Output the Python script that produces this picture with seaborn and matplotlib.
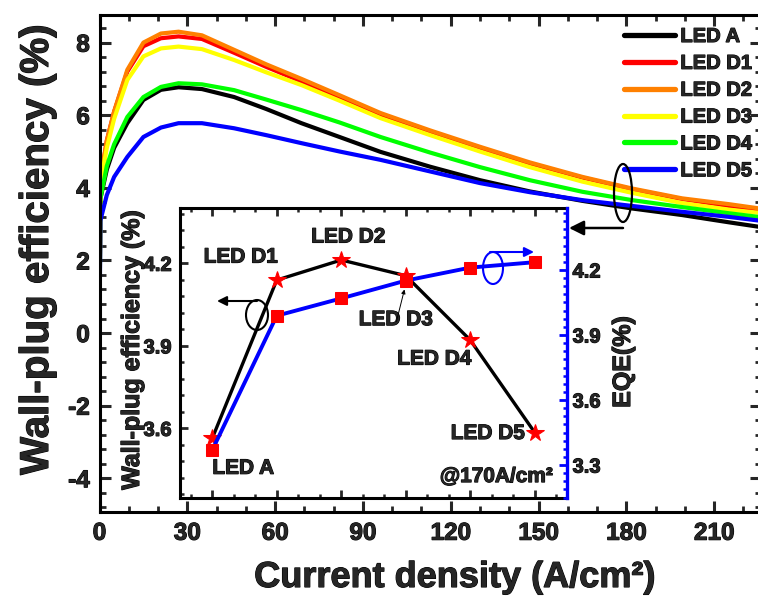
import numpy as np
import pandas as pd
import matplotlib
matplotlib.use("Agg")
import matplotlib.pyplot as plt
import matplotlib.patheffects as pe
import seaborn as sns
from matplotlib.ticker import MultipleLocator, AutoMinorLocator
from matplotlib.patches import Ellipse
from matplotlib.lines import Line2D

# ---------------- data ----------------
current = [0, 0.3, 2.5, 5, 9.5, 15, 21, 27, 35, 46, 57, 69, 82, 96, 113, 130, 147, 165, 182, 199, 215, 230]
led_a  = [0, 3.7, 4.5, 5.1, 5.78, 6.42, 6.70, 6.77, 6.72, 6.50, 6.17, 5.78, 5.40, 4.99, 4.58, 4.21, 3.90, 3.64, 3.43, 3.25, 3.05, 2.87]
led_d1 = [0, 4.2, 5.3, 6.1, 7.20, 7.90, 8.12, 8.17, 8.10, 7.72, 7.33, 6.93, 6.50, 6.02, 5.55, 5.10, 4.67, 4.28, 3.96, 3.69, 3.50, 3.36]
led_d2 = [0, 4.2, 5.3, 6.1, 7.25, 8.00, 8.25, 8.30, 8.20, 7.80, 7.40, 7.00, 6.55, 6.06, 5.58, 5.13, 4.70, 4.30, 3.98, 3.71, 3.55, 3.38]
led_d3 = [0, 4.1, 5.1, 5.9, 6.97, 7.62, 7.84, 7.89, 7.82, 7.52, 7.18, 6.83, 6.40, 5.92, 5.45, 5.00, 4.57, 4.17, 3.86, 3.58, 3.40, 3.27]
led_d4 = [0, 3.7, 4.6, 5.2, 5.95, 6.50, 6.78, 6.88, 6.85, 6.69, 6.43, 6.14, 5.80, 5.40, 4.97, 4.57, 4.21, 3.89, 3.66, 3.47, 3.30, 3.15]
led_d5 = [0, 3.1, 3.8, 4.3, 4.85, 5.40, 5.66, 5.78, 5.78, 5.64, 5.45, 5.23, 5.00, 4.77, 4.45, 4.13, 3.88, 3.66, 3.50, 3.34, 3.20, 3.05]
led_names = ["LED A", "LED D1", "LED D2", "LED D3", "LED D4", "LED D5"]
led_colors = ["#000000", "#ff0000", "#ff8000", "#ffff00", "#00ff00", "#0000ff"]

# inset (@170 A/cm2)
sample_pos = [1, 2, 3, 4, 5, 6]
wpe_170 = [3.564, 4.139, 4.212, 4.155, 3.921, 3.585]
eqe_170 = [3.369, 3.989, 4.069, 4.151, 4.211, 4.236]

# ---------------- style ----------------
sns.set_theme(style="ticks")
plt.rcParams["font.family"] = ["Liberation Sans", "DejaVu Sans"]
plt.rcParams["font.weight"] = "bold"
plt.rcParams["axes.unicode_minus"] = False
plt.rcParams["axes.linewidth"] = 2.2

W, H = 758, 599
fig = plt.figure(figsize=(W / 100, H / 100), dpi=100)
heavy = [pe.withStroke(linewidth=0.8, foreground="black")]


def fx(px):
    return px / W


def fy(py):
    return 1 - py / H


# ---------------- main axes ----------------
ax = fig.add_axes([fx(99.5), fy(512), fx(761) - fx(99.5), fy(15) - fy(512)])
series = [led_a, led_d1, led_d2, led_d3, led_d4, led_d5]
df = pd.DataFrame({
    "J": np.tile(current, len(series)),
    "WPE": np.concatenate(series),
    "LED": np.repeat(led_names, len(current)),
})
sns.lineplot(data=df, x="J", y="WPE", hue="LED", hue_order=led_names,
             palette=led_colors, lw=3.0, legend=False, ax=ax,
             estimator=None, sort=False)
ax.set_xlim(0, 226)
ax.set_ylim(-4.93, 8.76)
ax.xaxis.set_major_locator(MultipleLocator(30))
ax.xaxis.set_minor_locator(MultipleLocator(10))
ax.yaxis.set_major_locator(MultipleLocator(2))
ax.yaxis.set_minor_locator(AutoMinorLocator(5))
ax.tick_params(which="major", direction="in", length=8, width=2.2,
               top=True, right=True, labelsize=17.5, pad=7)
ax.tick_params(which="minor", direction="in", length=4, width=2,
               top=True, right=True)
ax.set_xlabel("")
ax.set_ylabel("")
for s in ax.spines.values():
    s.set_linewidth(2.2)
    s.set_color("black")

handles = [Line2D([], [], color=c, lw=3.8) for c in led_colors]
leg = ax.legend(handles, led_names, loc="upper left",
                bbox_to_anchor=(fx(624), fy(27)), bbox_transform=fig.transFigure,
                frameon=False, prop={"size": 14.5, "weight": "bold"},
                handlelength=2.55, handletextpad=0.25, labelspacing=0.39,
                borderpad=0, borderaxespad=0)
for t in leg.get_texts():
    t.set_path_effects(heavy)

fig.text(fx(37), fy(250), "Wall-plug efficiency (%)", rotation=90,
         ha="center", va="center", fontsize=29, fontweight="bold",
         path_effects=heavy)
fig.text(fx(455), fy(587), "Current density (A/cm\u00b2)",
         ha="center", va="baseline", fontsize=26, fontweight="bold",
         path_effects=heavy)

# ellipse + arrow on main curves
fig.add_artist(Ellipse((fx(623), fy(193)), fx(18), 58 / H, fill=False,
                       lw=1.6, ec="black", transform=fig.transFigure))
ax.annotate("", xy=(fx(569), fy(228)), xytext=(fx(623), fy(228)),
            xycoords="figure fraction", textcoords="figure fraction",
            arrowprops=dict(arrowstyle="-|>", lw=1.8, color="black",
                            mutation_scale=22, shrinkA=0, shrinkB=0))

# ---------------- inset ----------------
ins = fig.add_axes([fx(180), fy(498), fx(567) - fx(180), fy(208) - fy(498)])
ins.set_facecolor("white")
sns.lineplot(x=sample_pos, y=wpe_170, ax=ins, color="black", lw=2.4,
             marker="*", markersize=13, markerfacecolor="red",
             markeredgecolor="red")
ins.set_xlim(0.5, 6.5)
ins.set_ylim(3.347, 4.401)
ins.xaxis.set_major_locator(MultipleLocator(1))
ins.xaxis.set_minor_locator(AutoMinorLocator(3))
ins.yaxis.set_major_locator(MultipleLocator(0.3))
ins.yaxis.set_minor_locator(AutoMinorLocator(5))
ins.tick_params(which="major", direction="in", length=6, width=2,
                top=True, right=False, labelbottom=False, labelsize=14.5, pad=6)
ins.tick_params(which="minor", direction="in", length=3, width=1.8,
                top=True, right=False)
ins.spines["right"].set_visible(False)
for s in ["left", "top", "bottom"]:
    ins.spines[s].set_linewidth(2.2)
    ins.spines[s].set_color("black")

ins2 = ins.twinx()
sns.lineplot(x=sample_pos, y=eqe_170, ax=ins2, color="blue", lw=2.8,
             marker="s", markersize=9, markerfacecolor="red",
             markeredgecolor="red")
ins2.set_ylim(3.148, 4.486)
ins2.yaxis.set_major_locator(MultipleLocator(0.3))
ins2.yaxis.set_minor_locator(AutoMinorLocator(8))
ins2.tick_params(which="major", direction="in", length=6, width=2,
                 color="blue", labelsize=14.5, pad=4)
ins2.tick_params(which="minor", direction="in", length=3, width=1.8,
                 color="blue")
for s in ["left", "top", "bottom"]:
    ins2.spines[s].set_visible(False)
ins2.spines["right"].set_linewidth(2.4)
ins2.spines["right"].set_color("blue")
ins.set_xlabel("")
ins.set_ylabel("")
ins2.set_ylabel("")

fig.text(fx(132), fy(350), "Wall-plug efficiency (%)", rotation=90,
         ha="center", va="center", fontsize=18, fontweight="bold",
         path_effects=heavy)
fig.text(fx(623), fy(362), "EQE(%)", rotation=90,
         ha="center", va="center", fontsize=18, fontweight="bold",
         path_effects=heavy)

# point labels (offsets in pixels)
offsets = [(31, -30), (-36, 23), (7, 23), (-10, -44), (-36, -19), (-47, -1)]
for xp, yp, name, (dx, dy) in zip(sample_pos, wpe_170, led_names, offsets):
    ins.annotate(name, xy=(xp, yp), xytext=(dx, dy), textcoords="offset pixels",
                 ha="center", va="center", fontsize=15, fontweight="bold",
                 path_effects=heavy)
ins.annotate("", xy=(sample_pos[3] - 0.02, wpe_170[3] - 0.05), xytext=(-8, -32),
             textcoords="offset pixels",
             arrowprops=dict(arrowstyle="-|>", lw=0.7, color="black",
                             mutation_scale=6, shrinkA=0, shrinkB=0))
ins.text(0.964, 0.055, "@170A/cm\u00b2", transform=ins.transAxes,
         ha="right", va="baseline", fontsize=15, fontweight="bold",
         path_effects=heavy)

# inset ellipses + arrows
fig.add_artist(Ellipse((fx(257), fy(315)), fx(22), 30 / H, fill=False,
                       lw=1.5, ec="black", transform=fig.transFigure, zorder=10))
fig.add_artist(Ellipse((fx(493), fy(268)), fx(20), 32 / H, fill=False,
                       lw=1.5, ec="blue", transform=fig.transFigure, zorder=10))
ins2.annotate("", xy=(fx(217), fy(301)), xytext=(fx(257), fy(301)),
              xycoords="figure fraction", textcoords="figure fraction",
              arrowprops=dict(arrowstyle="-|>", lw=1.5, color="black",
                              mutation_scale=14, shrinkA=0, shrinkB=0))
ins2.annotate("", xy=(fx(534), fy(252)), xytext=(fx(490), fy(252)),
              xycoords="figure fraction", textcoords="figure fraction",
              arrowprops=dict(arrowstyle="-|>", lw=1.5, color="blue",
                              mutation_scale=14, shrinkA=0, shrinkB=0))

# make all tick labels bold (and slightly heavier) after tick creation
fig.canvas.draw()
for a in (ax, ins, ins2):
    for t in a.xaxis.get_major_ticks() + a.yaxis.get_major_ticks():
        for lab in (t.label1, t.label2):
            lab.set_fontweight("bold")
            lab.set_path_effects(heavy)

fig.savefig("out.png", dpi=100)
